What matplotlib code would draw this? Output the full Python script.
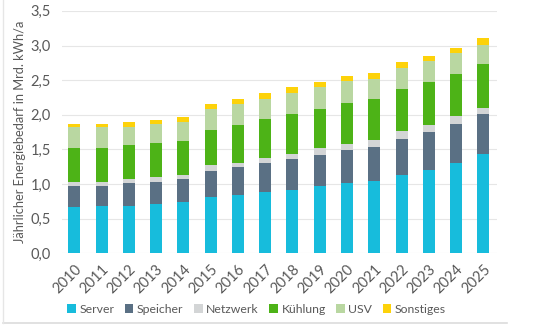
import numpy as np
import matplotlib
matplotlib.use('Agg')
import matplotlib.pyplot as plt
from matplotlib.lines import Line2D

years = [str(y) for y in range(2010, 2026)]

# segment heights per year (Mrd. kWh/a)
server = [0.67, 0.68, 0.69, 0.71, 0.74, 0.82, 0.85, 0.89, 0.92, 0.97, 1.01, 1.04, 1.13, 1.20, 1.31, 1.44]
speicher = [0.30, 0.29, 0.32, 0.32, 0.33, 0.37, 0.40, 0.41, 0.44, 0.45, 0.48, 0.50, 0.52, 0.55, 0.56, 0.57]
netzwerk = [0.06, 0.06, 0.06, 0.07, 0.06, 0.08, 0.06, 0.08, 0.08, 0.10, 0.09, 0.10, 0.11, 0.11, 0.11, 0.09]
kuehlung = [0.49, 0.49, 0.49, 0.49, 0.49, 0.51, 0.55, 0.56, 0.57, 0.57, 0.59, 0.59, 0.61, 0.61, 0.61, 0.63]
usv = [0.30, 0.30, 0.27, 0.28, 0.28, 0.31, 0.30, 0.29, 0.31, 0.31, 0.32, 0.29, 0.30, 0.31, 0.30, 0.28]
sonstiges = [0.05, 0.05, 0.07, 0.06, 0.07, 0.07, 0.07, 0.08, 0.08, 0.08, 0.07, 0.09, 0.09, 0.07, 0.08, 0.10]

series = [
    ('Server', server, '#17bcdc'),
    ('Speicher', speicher, '#5a7084'),
    ('Netzwerk', netzwerk, '#d3d5d6'),
    ('Kühlung', kuehlung, '#4db317'),
    ('USV', usv, '#b9d7a1'),
    ('Sonstiges', sonstiges, '#fdd20a'),
]

plt.rcParams['font.family'] = ['Lato', 'DejaVu Sans']

fig = plt.figure(figsize=(5.39, 3.30), dpi=100)
ax = fig.add_axes([0.115, 0.232, 0.807, 0.735])

x = np.arange(len(years))
bottom = np.zeros(len(years))
for name, vals, col in series:
    ax.bar(x, vals, width=0.44, bottom=bottom, color=col, label=name, zorder=3)
    bottom += np.array(vals)

ax.set_ylim(0, 3.5)
ax.set_xlim(-0.45, len(years) - 0.5)
ax.set_yticks(np.arange(0, 3.51, 0.5))
ax.set_yticklabels([f'{v:.1f}'.replace('.', ',') for v in np.arange(0, 3.51, 0.5)])
ax.set_xticks(x)
ax.set_xticklabels(years, rotation=45, ha='right', rotation_mode='anchor')
ax.grid(axis='y', color='#e6e6e6', linewidth=0.8, zorder=0)
for s in ax.spines.values():
    s.set_visible(False)
ax.tick_params(length=0, colors='#595959', labelsize=10.5)
ax.tick_params(axis='y', pad=8)
ax.tick_params(axis='x', pad=6)
ax.set_ylabel('Jährlicher Energiebedarf in Mrd. kWh/a', color='#595959', fontsize=9.3, labelpad=3)

handles, labels = ax.get_legend_handles_labels()
fig.legend(handles, labels, loc='center', bbox_to_anchor=(0.476, 0.063), ncol=6,
           frameon=False, fontsize=8.8, handlelength=0.7, handleheight=0.7,
           handletextpad=0.3, columnspacing=0.85, labelcolor='#595959')

# light frame around the chart
fig.add_artist(Line2D([0.005, 0.94], [0.022, 0.022], color='#dcdcdc', linewidth=1.2))
fig.add_artist(Line2D([0.006, 0.006], [0.022, 1.0], color='#e6e6e6', linewidth=1.0))

fig.savefig('out.png', dpi=100)
